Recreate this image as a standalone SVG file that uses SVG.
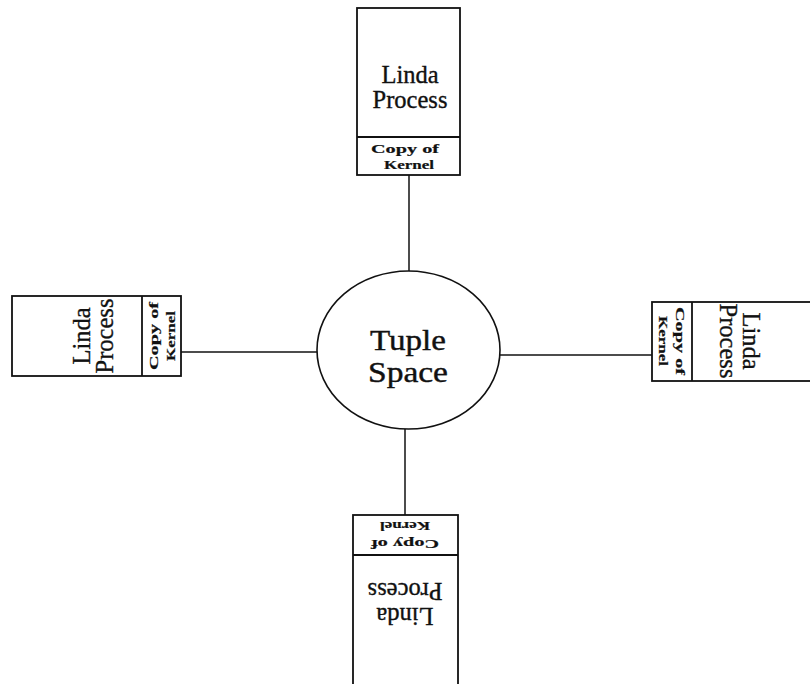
<svg xmlns="http://www.w3.org/2000/svg" width="810" height="684" viewBox="0 0 810 684">
  <style>
    .box { fill: #fff; stroke: #111; stroke-width: 1.8; }
    .div { stroke: #111; stroke-width: 1.8; }
    .link { stroke: #111; stroke-width: 1.5; fill: none; }
    .big { font-family: "Liberation Serif", "Times New Roman", serif; font-size: 24.5px; fill: #111; stroke: #111; stroke-width: 0.35; text-anchor: middle; }
    .core { font-family: "Liberation Serif", "Times New Roman", serif; font-size: 28.5px; fill: #111; stroke: #111; stroke-width: 0.4; text-anchor: middle; }
    .small { font-family: "Liberation Serif", "Times New Roman", serif; font-weight: bold; font-size: 13px; fill: #111; stroke: #111; stroke-width: 0.2; text-anchor: middle; }
  </style>
  <rect width="810" height="684" fill="#fff"/>

  <!-- connectors between tuple space and the four processes -->
  <g id="connectors">
    <line class="link" x1="409" y1="175" x2="409" y2="272"/>
    <line class="link" x1="181" y1="352" x2="317" y2="352"/>
    <line class="link" x1="500" y1="355" x2="652" y2="355"/>
    <line class="link" x1="405" y1="429" x2="405" y2="515"/>
  </g>

  <!-- central tuple space -->
  <g id="tuple-space">
    <ellipse cx="408.5" cy="350" rx="91.5" ry="79" fill="#fff" stroke="#111" stroke-width="1.6"/>
    <text class="core" x="408" y="350" textLength="76" lengthAdjust="spacingAndGlyphs">Tuple</text>
    <text class="core" x="408" y="382" textLength="80" lengthAdjust="spacingAndGlyphs">Space</text>
  </g>

  <!-- process at the top -->
  <g id="process-top">
    <rect class="box" x="357" y="8" width="103" height="167"/>
    <line class="div" x1="357" y1="137" x2="460" y2="137"/>
    <text class="big" x="410" y="83">Linda</text>
    <text class="big" x="410" y="108">Process</text>
    <text class="small" x="405" y="153" textLength="68" lengthAdjust="spacingAndGlyphs">Copy  of</text>
    <text class="small" x="409" y="169" textLength="50" lengthAdjust="spacingAndGlyphs">Kernel</text>
  </g>

  <!-- process on the left, turned a quarter anticlockwise -->
  <g id="process-left">
    <rect class="box" x="12" y="296" width="169" height="80"/>
    <line class="div" x1="142" y1="296" x2="142" y2="376"/>
    <text class="big" transform="translate(90,336) rotate(-90)">Linda</text>
    <text class="big" transform="translate(113,336) rotate(-90)">Process</text>
    <text class="small" transform="translate(158,336) rotate(-90)" textLength="68" lengthAdjust="spacingAndGlyphs">Copy  of</text>
    <text class="small" transform="translate(175,336) rotate(-90)" textLength="50" lengthAdjust="spacingAndGlyphs">Kernel</text>
  </g>

  <!-- process on the right, turned a quarter clockwise -->
  <g id="process-right">
    <rect class="box" x="652" y="302" width="170" height="79"/>
    <line class="div" x1="692" y1="302" x2="692" y2="381"/>
    <text class="big" transform="translate(743,341) rotate(90)">Linda</text>
    <text class="big" transform="translate(720,341) rotate(90)">Process</text>
    <text class="small" transform="translate(676,341) rotate(90)" textLength="68" lengthAdjust="spacingAndGlyphs">Copy  of</text>
    <text class="small" transform="translate(659,341) rotate(90)" textLength="50" lengthAdjust="spacingAndGlyphs">Kernel</text>
  </g>

  <!-- process at the bottom, upside down -->
  <g id="process-bottom">
    <rect class="box" x="353" y="515" width="105" height="180"/>
    <line class="div" x1="353" y1="555" x2="458" y2="555"/>
    <text class="small" transform="translate(405,522) rotate(180)" textLength="50" lengthAdjust="spacingAndGlyphs">Kernel</text>
    <text class="small" transform="translate(405,540) rotate(180)" textLength="68" lengthAdjust="spacingAndGlyphs">Copy  of</text>
    <text class="big" transform="translate(405,583) rotate(180)">Process</text>
    <text class="big" transform="translate(405,608) rotate(180)">Linda</text>
  </g>
</svg>
